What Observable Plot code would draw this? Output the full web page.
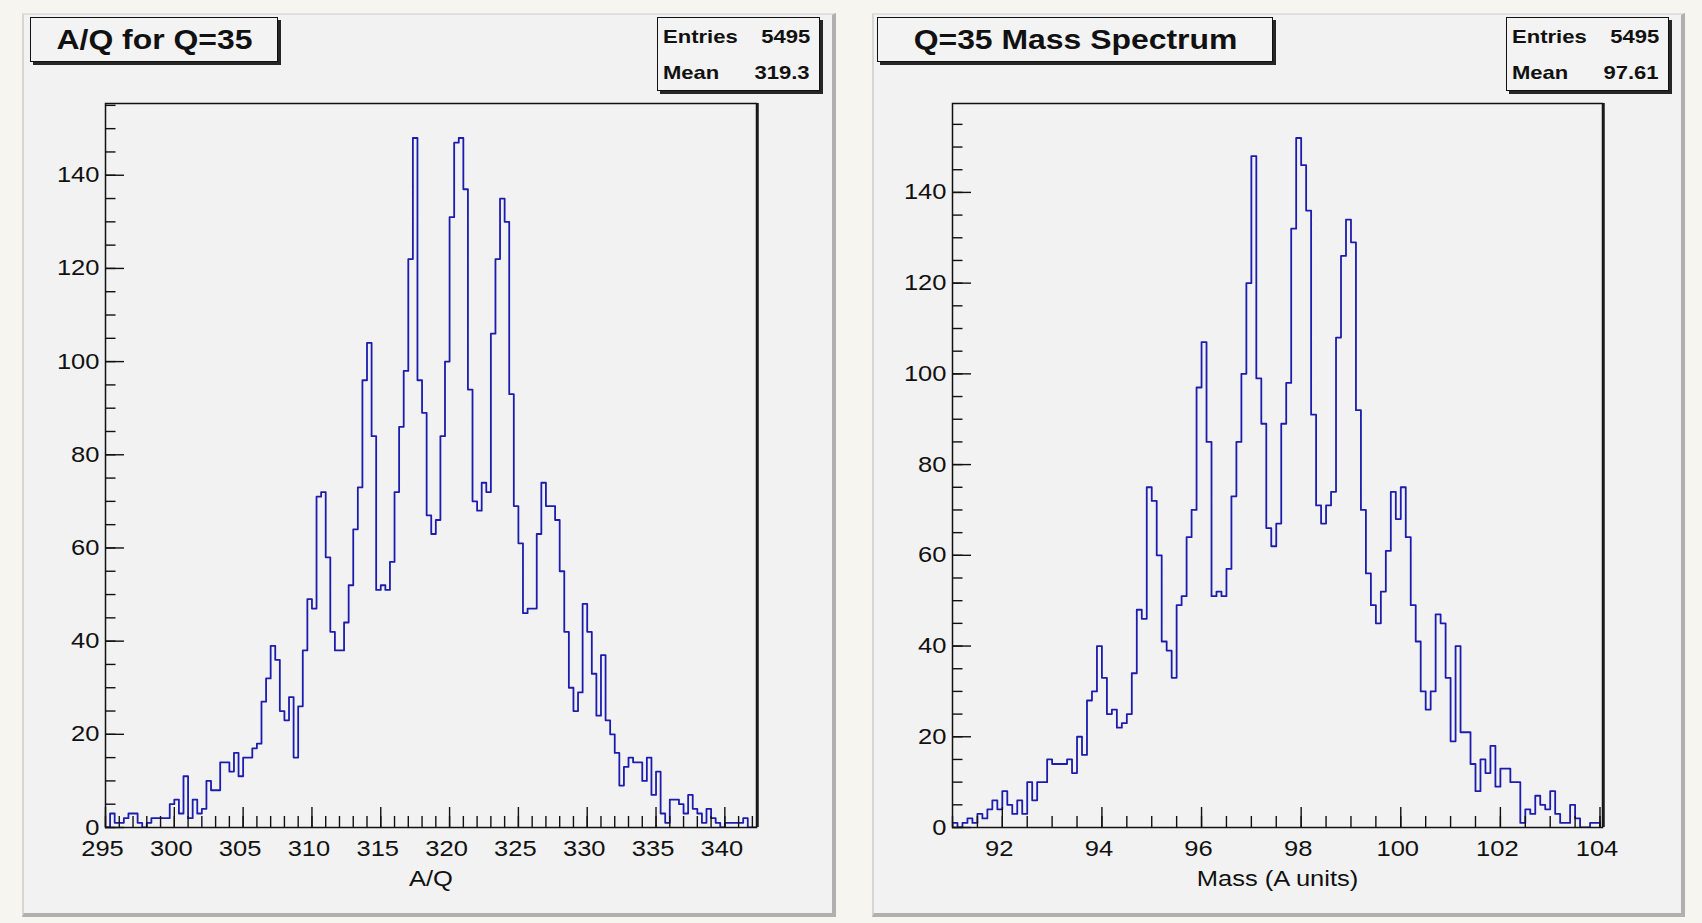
<!DOCTYPE html>
<html>
<head>
<meta charset="utf-8">
<script src="https://cdn.jsdelivr.net/npm/d3@7"></script>
<script src="https://cdn.jsdelivr.net/npm/@observablehq/plot@0.6"></script>
<style>
html, body { margin: 0; padding: 0; }
body { width: 1702px; height: 923px; position: relative; overflow: hidden; background: #f6f5f0;
  font-family: "Liberation Sans", Arial, Helvetica, sans-serif; color: #111; }
.pad { position: absolute; top: 13px; height: 904px; box-sizing: border-box; background: #f2f2f2;
  border-left: 2px solid #d6d6d6; border-top: 2px solid #e0e0e0; border-right: 4px solid #b0b0b0; border-bottom: 4px solid #b0b0b0; }
.chart { position: absolute; top: 0; }
.box { position: absolute; box-sizing: border-box; border: 1.5px solid #111; background: #f3f3f3; box-shadow: 3px 3px 0 #262626; }
.title { display: flex; align-items: center; justify-content: center; font-weight: bold; font-size: 27.5px; }
.s { display: inline-block; white-space: nowrap; transform: scaleX(1.16); }
.stats { font-weight: bold; font-size: 19px; }
.row { position: absolute; left: 0; right: 0; height: 24px; line-height: 24px; }
.row .l { position: absolute; left: 5px; transform-origin: left center; }
.row .v { position: absolute; right: 9px; transform-origin: right center; }
</style>
</head>
<body>
<div class="pad" style="left:22px;width:814px;"></div>
<div class="pad" style="left:872px;width:813px;"></div>
<div id="left" class="chart" style="left:0px;"></div>
<div id="right" class="chart" style="left:851px;"></div>
<div id="overlay"></div>
<script>
// ---------- data ----------
const aqTitle = "A/Q for Q=35";
const aqAxisLabel = "A/Q";
const aqEntries = "5495";
const aqMean = "319.3";
const aqBinStart = 295;
const aqBinWidth = 1 / 3;
const aqCounts = [
  0, 3, 1, 1, 2, 3, 3, 1, 0, 1,
  2, 2, 2, 2, 5, 6, 3, 11, 2, 6,
  3, 4, 10, 8, 8, 14, 14, 12, 16, 11,
  15, 15, 17, 18, 27, 32, 39, 36, 25, 23,
  28, 15, 26, 38, 49, 47, 71, 72, 58, 42,
  38, 38, 44, 52, 64, 73, 96, 104, 84, 51,
  52, 51, 57, 72, 86, 98, 122, 148, 96, 89,
  67, 63, 66, 84, 100, 131, 147, 148, 137, 94,
  70, 68, 74, 72, 106, 122, 135, 130, 93, 69,
  61, 46, 47, 47, 63, 74, 69, 69, 66, 55,
  42, 30, 25, 29, 48, 42, 33, 24, 37, 23,
  20, 16, 9, 13, 15, 14, 14, 10, 15, 7,
  12, 3, 1, 6, 6, 5, 3, 7, 4, 3,
  1, 4, 2, 1, 0, 1, 1, 1, 1, 2,
  0, 0
];
const aqXDomain = [295, 342.3];
const aqYMax = 155.4;
const aqXTicks = [295, 300, 305, 310, 315, 320, 325, 330, 335, 340];
const aqXMinorStep = 1;

const massTitle = "Q=35 Mass Spectrum";
const massAxisLabel = "Mass (A units)";
const massEntries = "5495";
const massMean = "97.61";
const massBinStart = 91;
const massBinWidth = 0.1;
const massCounts = [
  1, 0, 1, 2, 1, 3, 2, 4, 6, 4,
  8, 5, 3, 6, 3, 10, 6, 10, 10, 15,
  14, 14, 14, 15, 12, 20, 16, 28, 30, 40,
  33, 25, 26, 22, 23, 25, 34, 48, 46, 75,
  72, 60, 41, 39, 33, 49, 51, 64, 70, 97,
  107, 85, 51, 52, 51, 57, 73, 85, 100, 120,
  148, 99, 89, 66, 62, 67, 89, 98, 132, 152,
  146, 136, 91, 71, 67, 71, 74, 108, 126, 134,
  129, 92, 70, 56, 49, 45, 52, 61, 74, 68,
  75, 64, 49, 41, 30, 26, 30, 47, 45, 33,
  19, 40, 21, 21, 14, 8, 15, 12, 18, 9,
  13, 13, 10, 10, 1, 4, 3, 7, 5, 4,
  8, 3, 1, 1, 5, 2, 0, 0, 1, 1
];
const massXDomain = [91, 104.05];
const massYMax = 159.6;
const massXTicks = [92, 94, 96, 98, 100, 102, 104];
const massXMinorStep = 0.5;

const yTicks = [0, 20, 40, 60, 80, 100, 120, 140];
const yMinorStep = 5;

// ---------- helpers ----------
function stepPoints(start, width, counts) {
  const pts = [{x: start, y: 0}];
  counts.forEach((c, i) => pts.push({x: start + i * width, y: c}));
  const end = start + counts.length * width;
  pts.push({x: end, y: counts[counts.length - 1]});
  pts.push({x: end, y: 0});
  return pts;
}

function stretchText(svg, s) {
  svg.querySelectorAll("text").forEach(t => {
    const x = +(t.getAttribute("x") || 0);
    const tr = t.getAttribute("transform") || "";
    if (t.hasAttribute("x")) t.removeAttribute("x");
    t.setAttribute("transform", `${tr} translate(${x},0) scale(${s},1)`.trim());
  });
}

function histChart({counts, start, width, xDomain, yMax, xTicks, xMinorStep, label, ml, mr}) {
  const W = 851, H = 923, mt = 103, mb = 96;
  const fw = W - ml - mr, fh = H - mt - mb;
  const xMinor = d3.range(Math.ceil(xDomain[0]), xDomain[1] + 1e-9, xMinorStep);
  const yMinor = d3.range(0, yMax, yMinorStep);
  const ink = "#111";
  const svg = Plot.plot({
    width: W, height: H,
    marginLeft: ml, marginRight: mr, marginTop: mt, marginBottom: mb,
    style: {background: "transparent", fontFamily: "'Liberation Sans', Arial, Helvetica, sans-serif", color: ink},
    x: {domain: xDomain},
    y: {domain: [0, yMax]},
    marks: [
      Plot.line(stepPoints(start, width, counts), {x: "x", y: "y", curve: "step-after", stroke: "#1c1cae", strokeWidth: 1.8, clip: true}),
      Plot.tickX(xMinor, {x: d => d, insetTop: fh - 11, stroke: ink, strokeWidth: 1.4}),
      Plot.tickX(xTicks, {x: d => d, insetTop: fh - 20, stroke: ink, strokeWidth: 1.4}),
      Plot.tickY(yMinor, {y: d => d, insetRight: fw - 10.5, stroke: ink, strokeWidth: 1.4}),
      Plot.tickY(yTicks, {y: d => d, insetRight: fw - 19, stroke: ink, strokeWidth: 1.4}),
      Plot.frame({stroke: ink, strokeWidth: 1.5}),
      Plot.ruleX([xDomain[1]], {stroke: "#1a1a1a", strokeWidth: 2.5, dx: 1}),
      Plot.axisX(xTicks, {tickSize: 0, tickPadding: 13, fontSize: 22, dx: -3, label: null, fill: ink}),
      Plot.axisY(yTicks, {tickSize: 0, tickPadding: 6, fontSize: 22, label: null, fill: ink}),
      Plot.text([label], {text: d => d, frameAnchor: "bottom", dy: 58, fontSize: 22, fill: ink})
    ]
  });
  stretchText(svg, 1.16);
  return svg;
}

document.getElementById("left").appendChild(histChart({
  counts: aqCounts, start: aqBinStart, width: aqBinWidth, xDomain: aqXDomain, yMax: aqYMax,
  xTicks: aqXTicks, xMinorStep: aqXMinorStep, label: aqAxisLabel, ml: 105, mr: 95
}));
document.getElementById("right").appendChild(histChart({
  counts: massCounts, start: massBinStart, width: massBinWidth, xDomain: massXDomain, yMax: massYMax,
  xTicks: massXTicks, xMinorStep: massXMinorStep, label: massAxisLabel, ml: 101, mr: 100
}));

// ---------- title and stats boxes ----------
const overlay = document.getElementById("overlay");
function titleBox(text, left, width) {
  const d = document.createElement("div");
  d.className = "box title";
  Object.assign(d.style, {left: left + "px", top: "17px", width: width + "px", height: "45px"});
  const s = document.createElement("span");
  s.className = "s";
  s.textContent = text;
  d.appendChild(s);
  overlay.appendChild(d);
}
function statsBox(entries, mean, left, width) {
  const d = document.createElement("div");
  d.className = "box stats";
  Object.assign(d.style, {left: left + "px", top: "17px", width: width + "px", height: "74px"});
  [["Entries", entries, 7], ["Mean", mean, 43]].forEach(([l, v, top]) => {
    const r = document.createElement("div");
    r.className = "row";
    r.style.top = top + "px";
    const a = document.createElement("span"); a.className = "s l"; a.textContent = l;
    const b = document.createElement("span"); b.className = "s v"; b.textContent = v;
    r.appendChild(a); r.appendChild(b);
    d.appendChild(r);
  });
  overlay.appendChild(d);
}
titleBox(aqTitle, 30, 248);
titleBox(massTitle, 877, 396);
statsBox(aqEntries, aqMean, 657, 163);
statsBox(massEntries, massMean, 1506, 163);
</script>
</body>
</html>
